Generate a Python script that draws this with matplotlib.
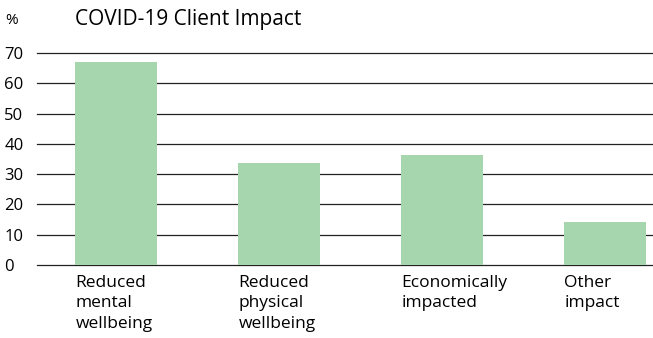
import matplotlib
matplotlib.use("Agg")
import matplotlib.pyplot as plt
import numpy as np

plt.rcParams['font.family'] = ['Open Sans', 'DejaVu Sans']

categories = ["Reduced\nmental\nwellbeing", "Reduced\nphysical\nwellbeing",
              "Economically\nimpacted", "Other\nimpact"]
values = [67.0, 33.7, 36.3, 14.2]
y_ticks = [0, 10, 20, 30, 40, 50, 60, 70]
title = "COVID-19 Client Impact"
unit = "%"

W, H = 653, 338
fig = plt.figure(figsize=(W / 100, H / 100), dpi=100)
top_px, bot_px, left_px = 53, 265, 37
ax = fig.add_axes([left_px / W, 1 - bot_px / H, 1 - left_px / W, (bot_px - top_px) / H])

x = np.arange(len(categories))
bw = 0.5
ax.bar(x, values, width=bw, color='#a6d6ae', zorder=2)
ax.set_xlim(-0.485, 3.294)
ax.set_ylim(0, 70)
ax.set_yticks(y_ticks)
ax.yaxis.grid(True, color='#222222', linewidth=0.9, zorder=1)
for gl in ax.yaxis.get_gridlines():
    gl.set_clip_on(False)
ax.set_axisbelow(True)
for s in ax.spines.values():
    s.set_visible(False)

ax.tick_params(axis='y', length=0, pad=23.5, labelsize=12)
for lab in ax.get_yticklabels():
    lab.set_horizontalalignment('left')

ax.set_xticks(x - bw / 2)
ax.set_xticklabels(categories, ha='left', va='top', fontsize=12.5, linespacing=1.38)
ax.tick_params(axis='x', length=0, pad=7)

fig.text(5 / W, 1 - 20 / H, unit, fontsize=11, va='center', ha='left')
fig.text(75 / W, 1 - 19 / H, title, fontsize=15, va='center', ha='left')

fig.savefig("out.png", dpi=100)
